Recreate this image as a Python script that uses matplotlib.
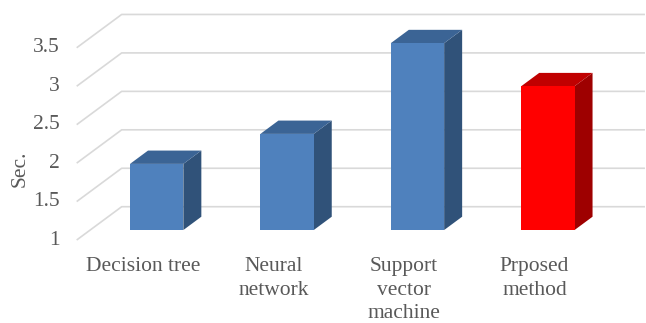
import matplotlib
matplotlib.use("Agg")
import matplotlib.pyplot as plt
from matplotlib.patches import Polygon
import numpy as np

# Chart data
categories = ["Decision tree", "Neural\nnetwork", "Support\nvector\nmachine", "Prposed\nmethod"]
seconds = [1.86, 2.25, 3.43, 2.87]
tick_values = [1, 1.5, 2, 2.5, 3, 3.5]
tick_labels = ["1", "1.5", "2", "2.5", "3", "3.5"]
y_label = "Sec."

front_colors = ["#4F81BD", "#4F81BD", "#4F81BD", "#FF0000"]
top_colors = ["#3B6495", "#3B6495", "#3B6495", "#C00000"]
side_colors = ["#305279", "#305279", "#305279", "#9E0000"]
text_color = "#595959"
grid_color = "#D9D9D9"

plt.rcParams["font.family"] = ["Liberation Serif", "DejaVu Serif"]

fig = plt.figure(figsize=(6.46, 3.23), dpi=100)
ax = fig.add_axes([0, 0, 1, 1])
ax.set_xlim(-1.098, 3.856)
ax.set_ylim(-0.079, 4.121)
ax.axis("off")

# oblique depth vector (full floor depth) in data units
DX = 45 / 130.4
DY = 33.3 / 76.9
base = 1.0
bar_w = 0.409
d_front, d_back = 0.3, 0.7

x = np.arange(len(categories))

# back wall gridlines with slanted floor/side-wall segments
gx0, gx1 = -0.51, 3.503
for v in tick_values:
    ax.plot([gx0, gx0 + DX, gx1 + DX], [v, v + DY, v + DY],
            color=grid_color, lw=1.2, zorder=1, solid_capstyle="butt")
for v, lab in zip(tick_values, tick_labels):
    ax.annotate(lab, xy=(gx0, v), xytext=(-12, 0), textcoords="offset points",
                ha="right", va="center", fontsize=15.5, color=text_color)

# 3D-looking columns: front face as bars, top and side as polygons
xf = x + d_front * DX
bf = base + d_front * DY
ax.bar(xf, np.array(seconds) - base, bottom=bf, width=bar_w,
       color=front_colors, zorder=3, linewidth=0)
ddx = (d_back - d_front) * DX
ddy = (d_back - d_front) * DY
for xi, v, tc, sc in zip(xf, seconds, top_colors, side_colors):
    xl, xr = xi - bar_w / 2, xi + bar_w / 2
    t = v + d_front * DY
    ax.add_patch(Polygon([(xr, bf), (xr, t), (xr + ddx, t + ddy), (xr + ddx, bf + ddy)],
                         closed=True, facecolor=sc, edgecolor="none", zorder=2.5))
    ax.add_patch(Polygon([(xl, t), (xr, t), (xr + ddx, t + ddy), (xl + ddx, t + ddy)],
                         closed=True, facecolor=tc, edgecolor="none", zorder=2.5))

# category labels on the front edge of the floor
for xi, lab in zip(x, categories):
    ax.text(xi, 0.779, lab, ha="center", va="top", fontsize=15.5,
            color=text_color, linespacing=1.33, multialignment="center")

ax.text(-0.945, 1.923, y_label, rotation=90, ha="center", va="center",
        fontsize=15.5, color=text_color)

fig.savefig("out.png", dpi=100)
